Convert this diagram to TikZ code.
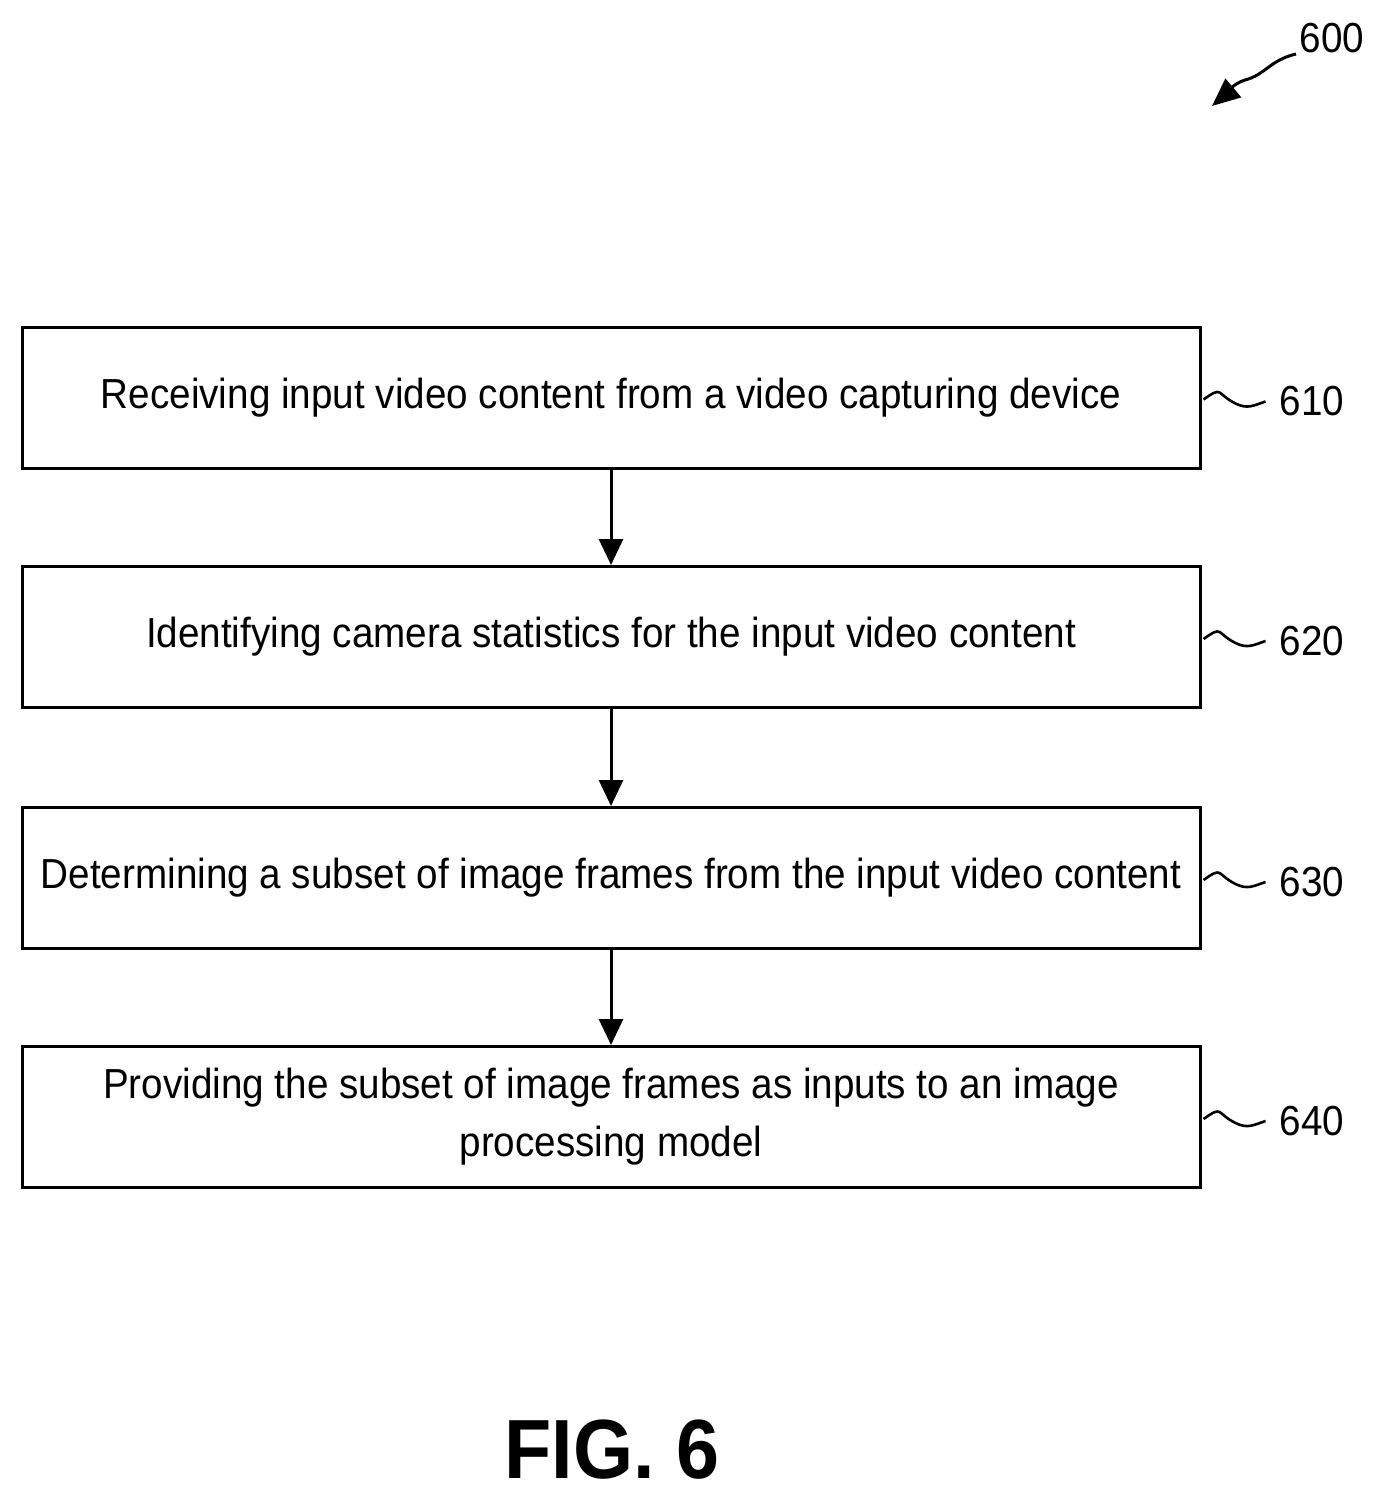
\documentclass[tikz,border=0pt]{standalone}
\usepackage{fontspec}
\setmainfont{Liberation Sans}[FakeStretch=0.92]
\usetikzlibrary{arrows.meta}

\begin{document}
\begin{tikzpicture}
[x=0.5pt, y=-0.5pt, every node/.style={inner sep=0pt},
 stepbox/.style={draw=black, line width=1.5pt, minimum width=589pt, minimum height=70.5pt, align=center, font=\fontsize{21}{29}\selectfont},
 flow/.style={line width=1.5pt, -{Triangle[length=13pt, width=12pt]}},
 tag/.style={font=\fontsize{21}{24}\selectfont, anchor=west}]
\useasboundingbox (0,0) rectangle (1383,1503);
\node (610) [stepbox] at (611, 397.5) {Receiving input video content from a video capturing device};
\node (620) [stepbox] at (611, 637) {Identifying camera statistics for the input video content};
\node (630) [stepbox] at (611, 878) {Determining a subset of image frames from the input video content};
\node (640) [stepbox] at (611, 1117) {Providing the subset of image frames as inputs to an image\\processing model};
\draw [flow] (610) to (620);
\draw [flow] (620) to (630);
\draw [flow] (630) to (640);
\foreach \n in {610,620,630,640}
{
\draw [line width=1.3pt] (\n.east) ++(2,2) .. controls +(20,-14) and +(-20,-10) .. ++(32,4) .. controls +(12,6) and +(-12,4) .. ++(30,-2) coordinate (w\n);
\node (t\n) [tag] at ([xshift=7pt]w\n) {\n};
}
\node (600) [font=\fontsize{21}{24}\selectfont] at (1332, 38) {600};
\coordinate (a600) at (1212, 106);
\draw [line width=1.5pt, -{Triangle[length=14pt, width=12pt]}] (1296, 54) .. controls (1270, 60) and (1265, 75) .. (1245, 80) .. controls (1232, 84) and (1225, 95) .. (a600);
\node (fig) [font=\bfseries\fontsize{42}{50}\selectfont] at (612, 1450) {FIG. 6};
\end{tikzpicture}
\end{document}
